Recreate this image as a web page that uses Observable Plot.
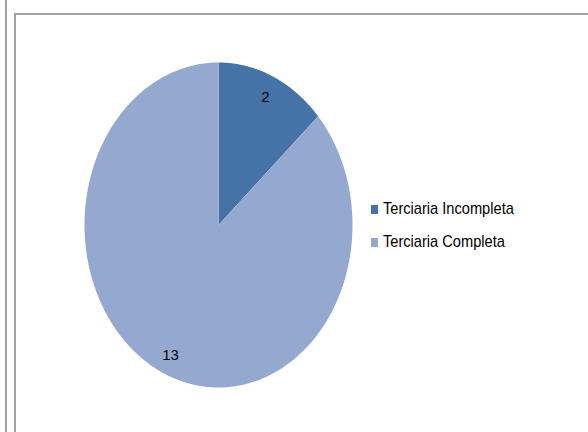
<!DOCTYPE html>
<html><head><meta charset="utf-8">
<script src="https://cdn.jsdelivr.net/npm/d3@7"></script>
<script src="https://cdn.jsdelivr.net/npm/@observablehq/plot@0.6"></script>
<style>
body{margin:0;overflow:hidden;background:#fff;}
#wrap{position:relative;width:588px;height:432px;overflow:hidden;background:#fff;}
.vline{position:absolute;left:5px;top:0;width:2px;height:432px;background:#a2a2a2;}
.frame{position:absolute;left:14px;top:13px;width:600px;height:500px;border-left:2px solid #a2a2a2;border-top:2px solid #a2a2a2;}
#chart{position:absolute;left:0;top:0;}
#legend{position:absolute;left:371px;top:199px;font-family:"Liberation Sans",Arial,sans-serif;font-size:17px;color:#000;}
.item{display:flex;align-items:center;height:20px;margin-bottom:13px;white-space:nowrap;}
.sw{width:7px;height:9px;margin-right:5px;flex:none;}
.item span{display:inline-block;transform:scaleX(0.86);transform-origin:left center;}
</style></head><body>
<div id="wrap">
  <div class="vline"></div>
  <div class="frame"></div>
  <div id="chart"></div>
  <div id="legend"></div>
</div>
<script>
const categories = ["Terciaria Incompleta", "Terciaria Completa"];
const values = [2, 13];
const colors = ["#4572a7", "#95a9d0"];

const data = categories.map((c, i) => ({cat: c, value: values[i]}));
const arcs = d3.pie().sort(null).value(d => d.value)(data);

const pts = [];
const labels = [];
arcs.forEach((s, k) => {
  const cat = s.data.cat;
  pts.push({cat, x: 0, y: 0});
  const n = 180;
  for (let i = 0; i <= n; i++) {
    const a = s.startAngle + (s.endAngle - s.startAngle) * i / n;
    pts.push({cat, x: Math.sin(a), y: Math.cos(a)});
  }
  const m = (s.startAngle + s.endAngle) / 2;
  const r = k === 0 ? 0.86 : 0.88;
  labels.push({cat, value: s.data.value, x: r * Math.sin(m), y: r * Math.cos(m)});
});

const chart = Plot.plot({
  width: 588,
  height: 432,
  marginLeft: 84,
  marginRight: 236,
  marginTop: 62,
  marginBottom: 45,
  x: {domain: [-1, 1], axis: null},
  y: {domain: [-1, 1], axis: null},
  color: {domain: categories, range: colors},
  style: {background: "transparent", fontFamily: "'Liberation Sans',Arial,sans-serif", fontSize: "15px"},
  marks: [
    Plot.line(pts, {x: "x", y: "y", z: "cat", fill: "cat", stroke: "none"}),
    Plot.text(labels, {x: "x", y: "y", text: d => String(d.value), fill: "#000", fontSize: 15})
  ]
});
document.getElementById("chart").appendChild(chart);

const legend = document.getElementById("legend");
categories.forEach((c, i) => {
  const it = document.createElement("div");
  it.className = "item";
  const sw = document.createElement("div");
  sw.className = "sw";
  sw.style.background = colors[i];
  const t = document.createElement("span");
  t.textContent = c;
  it.appendChild(sw);
  it.appendChild(t);
  legend.appendChild(it);
});
</script>
</body></html>
